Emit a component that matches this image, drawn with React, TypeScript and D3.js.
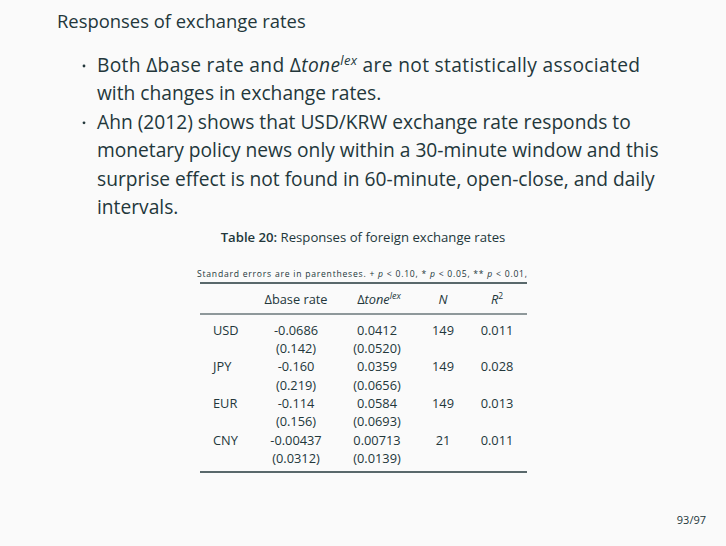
import React from "react";
import * as d3 from "d3";

const slideTitle = "Responses of exchange rates";
const pageLabel = "93/97";

const currencies = ["USD", "JPY", "EUR", "CNY"];
const baseRateCoef = ["-0.0686", "-0.160", "-0.114", "-0.00437"];
const baseRateSe = ["(0.142)", "(0.219)", "(0.156)", "(0.0312)"];
const toneCoef = ["0.0412", "0.0359", "0.0584", "0.00713"];
const toneSe = ["(0.0520)", "(0.0656)", "(0.0693)", "(0.0139)"];
const obsN = ["149", "149", "149", "21"];
const rSquared = ["0.011", "0.028", "0.013", "0.011"];

const W = 726;
const H = 546;
const ink = "#23373b";
const font = "'Open Sans', 'Noto Sans', sans-serif";

export default function App() {
  // column centres of the table
  const colX = d3.scaleOrdinal<string, number>()
    .domain(["label", "base", "tone", "n", "r2"])
    .range([213, 296, 377, 443, 497]);

  const rowY = d3.scaleLinear().domain([0, currencies.length]).range([330, 476.8]);
  const seGap = 18.3;

  const lineY = d3.scaleLinear().domain([0, 5]).range([72, 214]);

  const rows = currencies.map((c, i) => ({
    c, b: baseRateCoef[i], bs: baseRateSe[i], t: toneCoef[i], ts: toneSe[i], n: obsN[i], r: rSquared[i],
  }));

  return (
    <div style={{ position: "fixed", left: 0, top: 0, width: W, height: H }}>
      <svg width={W} height={H} style={{ display: "block", fontFamily: font }}>
        <rect width={W} height={H} fill="#fafafa" />
        <text x={57} y={28} fontSize={18.4} fill={ink}>{slideTitle}</text>

        {/* bullets */}
        <g fill={ink} fontSize={19.2}>
          <circle cx={84} cy={lineY(0) - 6} r={1.4} />
          <text x={97} y={lineY(0)} textLength={543} lengthAdjust="spacing">
            Both Δbase rate and Δ<tspan fontStyle="italic">tone</tspan>
            <tspan fontStyle="italic" fontSize={13} dy={-7}>lex</tspan>
            <tspan dy={7}> are not statistically associated</tspan>
          </text>
          <text x={97} y={lineY(1)}>with changes in exchange rates.</text>
          <circle cx={84} cy={lineY(2) - 6} r={1.4} />
          <text x={97} y={lineY(2)}>Ahn (2012) shows that USD/KRW exchange rate responds to</text>
          <text x={97} y={lineY(3)}>monetary policy news only within a 30-minute window and this</text>
          <text x={97} y={lineY(4)}>surprise effect is not found in 60-minute, open-close, and daily</text>
          <text x={97} y={lineY(5)}>intervals.</text>
        </g>

        {/* caption */}
        <text x={363} y={242} fontSize={13.15} fill={ink} textAnchor="middle">
          <tspan fontWeight={600}>Table 20:</tspan> Responses of foreign exchange rates
        </text>
        <text x={197} y={277} fontSize={8.6} fill={ink} textLength={330} lengthAdjust="spacing">
          Standard errors are in parentheses. + <tspan fontStyle="italic">p</tspan> &lt; 0.10, * <tspan fontStyle="italic">p</tspan> &lt; 0.05, ** <tspan fontStyle="italic">p</tspan> &lt; 0.01,
        </text>

        {/* rules */}
        <line x1={200} x2={527} y1={283} y2={283} stroke={ink} strokeWidth={1.6} />
        <line x1={200} x2={527} y1={314} y2={314} stroke={ink} strokeWidth={1} />
        <line x1={200} x2={527} y1={472} y2={472} stroke={ink} strokeWidth={1.6} />

        {/* header */}
        <g fontSize={12.8} fill={ink} textAnchor="middle">
          <text x={colX("base")} y={304}>Δbase rate</text>
          <text x={colX("tone") + 2} y={304}>
            Δ<tspan fontStyle="italic">tone</tspan>
            <tspan fontStyle="italic" fontSize={9} dy={-5}>lex</tspan>
          </text>
          <text x={colX("n")} y={304} fontStyle="italic">N</text>
          <text x={colX("r2")} y={304}>
            <tspan fontStyle="italic">R</tspan>
            <tspan fontSize={8.5} dy={-5}>2</tspan>
          </text>
        </g>

        {/* body */}
        <g fontSize={12.8} fill={ink}>
          {rows.map((r, i) => {
            const y = rowY(i) + 4.5;
            return (
              <g key={r.c}>
                <text x={colX("label")} y={y}>{r.c}</text>
                <text x={colX("base")} y={y} textAnchor="middle">{r.b}</text>
                <text x={colX("base")} y={y + seGap} textAnchor="middle">{r.bs}</text>
                <text x={colX("tone")} y={y} textAnchor="middle">{r.t}</text>
                <text x={colX("tone")} y={y + seGap} textAnchor="middle">{r.ts}</text>
                <text x={colX("n")} y={y} textAnchor="middle">{r.n}</text>
                <text x={colX("r2")} y={y} textAnchor="middle">{r.r}</text>
              </g>
            );
          })}
        </g>

        <text x={706} y={524} fontSize={11} fill={ink} textAnchor="end">{pageLabel}</text>
      </svg>
    </div>
  );
}
